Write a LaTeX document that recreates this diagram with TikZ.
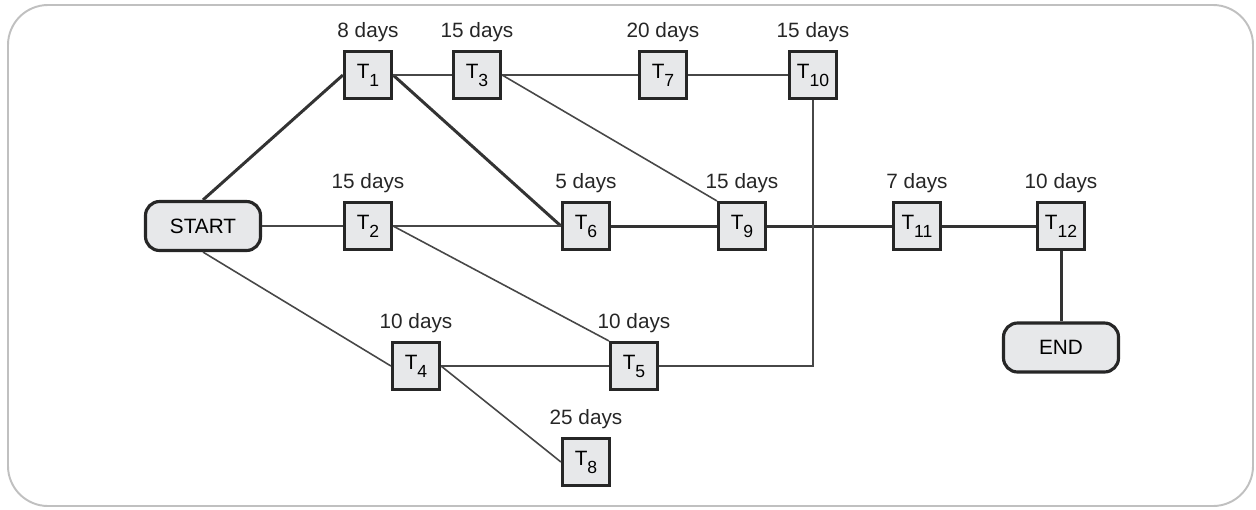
\documentclass[tikz,border=0pt]{standalone}
\usepackage{fontspec}
\setmainfont{Liberation Sans}
\usetikzlibrary{positioning}
\definecolor{boxfill}{RGB}{231,232,234}
\definecolor{framegray}{RGB}{192,192,192}
\newcommand{\tk}[1]{T\raisebox{-4.5pt}{\fontsize{10}{11}\selectfont #1}}
\tikzset{
  taskbox/.style={
    rectangle, minimum size=0.94cm, inner sep=0pt,
    draw=black!85, fill=boxfill, line width=1.8pt,
    font=\fontsize{11.8}{14}\selectfont
  },
  endbox/.style={
    rectangle, rounded corners=8pt,
    minimum width=2.3cm, minimum height=0.98cm,
    draw=black!85, fill=boxfill, line width=1.8pt,
    font=\fontsize{11.8}{14}\selectfont
  },
  daylbl/.style={inner sep=0pt, yshift=0.15cm,
    font=\fontsize{11.8}{14}\selectfont, text=black!85},
  critline/.style={line width=1.7pt, color=black!80},
  plainline/.style={line width=0.9pt, color=black!72},
}
\begin{document}
\begin{tikzpicture}
  \useasboundingbox (0,0) rectangle (25.12,-10.18);
  \draw[framegray, line width=1.1pt, rounded corners=0.8cm]
    (0.16,-0.10) rectangle (25.06,-10.12);

  \node[endbox](start) at (4.06,-4.52)  {START};
  \node[endbox](finish) at (21.22,-6.95){END};

  \node[taskbox, label={[daylbl]above:8 days}] (t1)  at (7.36,-1.50)  {\tk{1}};
  \node[taskbox, label={[daylbl]above:15 days}](t3)  at (9.54,-1.50)  {\tk{3}};
  \node[taskbox, label={[daylbl]above:20 days}](t7)  at (13.26,-1.50) {\tk{7}};
  \node[taskbox, label={[daylbl]above:15 days}](t10) at (16.26,-1.50) {\tk{10}};
  \node[taskbox, label={[daylbl]above:15 days}](t2)  at (7.36,-4.52)  {\tk{2}};
  \node[taskbox, label={[daylbl]above:5 days}] (t6)  at (11.72,-4.52) {\tk{6}};
  \node[taskbox, label={[daylbl]above:15 days}](t9)  at (14.84,-4.52) {\tk{9}};
  \node[taskbox, label={[daylbl]above:7 days}] (t11) at (18.34,-4.52) {\tk{11}};
  \node[taskbox, label={[daylbl]above:10 days}](t12) at (21.22,-4.52) {\tk{12}};
  \node[taskbox, label={[daylbl]above:10 days}](t4)  at (8.32,-7.32)  {\tk{4}};
  \node[taskbox, label={[daylbl]above:10 days}](t5)  at (12.68,-7.32) {\tk{5}};
  \node[taskbox, label={[daylbl]above:25 days}](t8)  at (11.72,-9.24) {\tk{8}};

  % critical path
  \draw[critline](start.north)--(t1.west);
  \draw[critline](t1.east)--(t6.west);
  \draw[critline](t6.east)--(t9.west);
  \draw[critline](t9.east)--(t11.west);
  \draw[critline](t11.east)--(t12.west);
  \draw[critline](t12.south)--(finish.north);

  % other links
  \draw[plainline](t1.east)--(t3.west);
  \draw[plainline](t3.east)--(t7.west);
  \draw[plainline](t7.east)--(t10.west);
  \draw[plainline](t3.east)--(t9.north west);
  \draw[plainline](start.east)--(t2.west);
  \draw[plainline](t2.east)--(t6.west);
  \draw[plainline](t2.east)--(t5.north west);
  \draw[plainline](start.south)--(t4.west);
  \draw[plainline](t4.east)--(t5.west);
  \draw[plainline](t4.east)--(t8.west);
  \draw[plainline](t10.south)|-(t5.east);
\end{tikzpicture}
\end{document}
